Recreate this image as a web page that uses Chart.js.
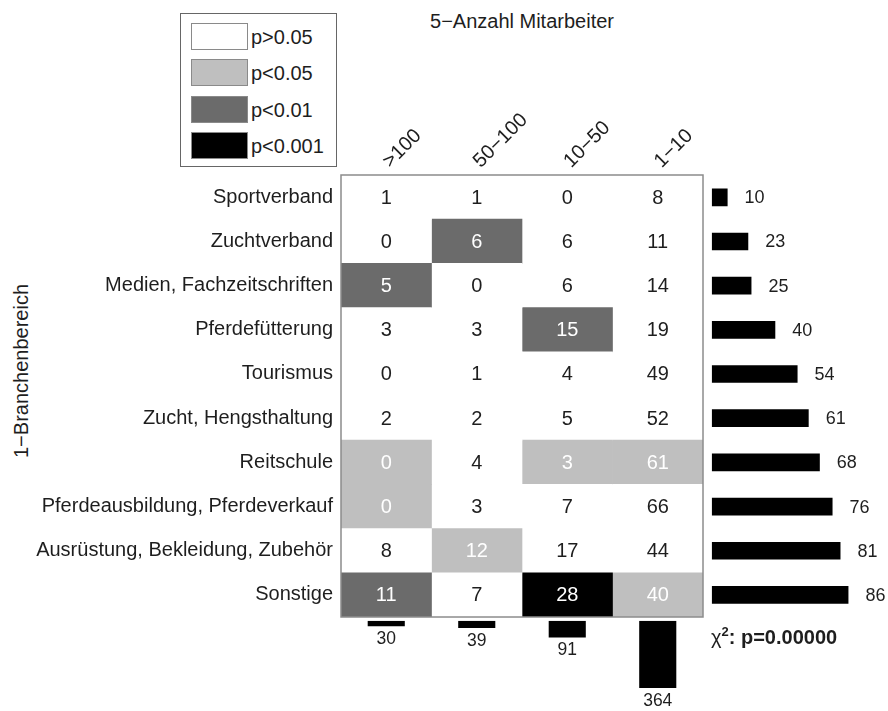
<!DOCTYPE html>
<html>
<head>
<meta charset="utf-8">
<script src="https://cdn.jsdelivr.net/npm/chart.js@4.4.1/dist/chart.umd.min.js"></script>
<style>
    body { margin: 0; background: #fff; font-family: "Liberation Sans", Arial, sans-serif; color: #1e1e1e; }
    #wrap { position: relative; width: 888px; height: 711px; overflow: hidden; }
    canvas { position: absolute; }
    #heat { left: 0; top: 0; }
    #rowTot { left: 705px; top: 170px; }
    #colTot { left: 336px; top: 617px; }
    .title { position: absolute; left: 522px; top: 9px; transform: translateX(-50%); font-size: 20px; line-height: 24px; white-space: nowrap; }
    .ytitle { position: absolute; left: 21px; top: 371px; transform: translate(-50%, -50%) rotate(-90deg); font-size: 20px; line-height: 24px; white-space: nowrap; }
    .legend { position: absolute; left: 180px; top: 13px; width: 157px; height: 154px; box-sizing: border-box; border: 1px solid #666; }
    .legend .item { position: absolute; left: 10px; height: 27px; }
    .legend .sw { position: absolute; left: 0; top: 0; width: 57px; height: 27px; box-sizing: border-box; border: 1px solid #8a8a8a; }
    .legend .lbl { position: absolute; left: 60px; top: 1px; font-size: 20px; line-height: 26px; white-space: nowrap; }
    .chi { position: absolute; left: 711px; top: 625px; font-size: 20px; line-height: 24px; font-weight: bold; white-space: nowrap; }
    .chi .x { font-weight: normal; }
    .chi .s { position: relative; top: -8px; font-size: 13px; }
</style>
</head>
<body>
<div id="wrap">
    <div class="title">5−Anzahl Mitarbeiter</div>
    <div class="ytitle">1−Branchenbereich</div>
    <div class="legend" id="legend"></div>
    <canvas id="heat" width="708" height="622"></canvas>
    <canvas id="rowTot" width="183" height="452"></canvas>
    <canvas id="colTot" width="372" height="94"></canvas>
    <div class="chi"><span class="x">χ</span><span class="s">2</span>: p=0.00000</div>
</div>
<script>
// data
const rows = ['Sportverband', 'Zuchtverband', 'Medien, Fachzeitschriften', 'Pferdefütterung', 'Tourismus',
    'Zucht, Hengsthaltung', 'Reitschule', 'Pferdeausbildung, Pferdeverkauf', 'Ausrüstung, Bekleidung, Zubehör', 'Sonstige'];
const cols = ['>100', '50−100', '10−50', '1−10'];

// counts per column (top to bottom)
const countsGt100 = [1, 0, 5, 3, 0, 2, 0, 0, 8, 11];
const counts50to100 = [1, 6, 0, 3, 1, 2, 4, 3, 12, 7];
const counts10to50 = [0, 6, 6, 15, 4, 5, 3, 7, 17, 28];
const counts1to10 = [8, 11, 14, 19, 49, 52, 61, 66, 44, 40];

// significance class per cell: 0 p>0.05, 1 p<0.05, 2 p<0.01, 3 p<0.001
const levelGt100 = [0, 0, 2, 0, 0, 0, 1, 1, 0, 2];
const level50to100 = [0, 2, 0, 0, 0, 0, 0, 0, 1, 0];
const level10to50 = [0, 0, 0, 2, 0, 0, 1, 0, 0, 3];
const level1to10 = [0, 0, 0, 0, 0, 0, 1, 0, 0, 1];

const rowTotals = [10, 23, 25, 40, 54, 61, 68, 76, 81, 86];
const colTotals = [30, 39, 91, 364];

const levelLabels = ['p>0.05', 'p<0.05', 'p<0.01', 'p<0.001'];
const levelColors = ['#ffffff', '#bfbfbf', '#6b6b6b', '#000000'];

const counts = [countsGt100, counts50to100, counts10to50, counts1to10];
const levels = [levelGt100, level50to100, level10to50, level1to10];

Chart.defaults.font.family = '"Liberation Sans", Arial, sans-serif';
Chart.defaults.color = '#1e1e1e';
Chart.defaults.animation = false;

// legend
const legendEl = document.getElementById('legend');
levelLabels.forEach((txt, i) => {
    const item = document.createElement('div');
    item.className = 'item';
    item.style.top = (8.7 + i * 36.5) + 'px';
    item.innerHTML = '<div class="sw" style="background:' + levelColors[i] + '"></div><div class="lbl">' + txt + '</div>';
    legendEl.appendChild(item);
});

// numbers inside the cells + frame round the table
const cellText = {
    id: 'cellText',
    afterDatasetsDraw(chart) {
        const ctx = chart.ctx;
        ctx.save();
        ctx.font = '20px "Liberation Sans", Arial, sans-serif';
        ctx.textAlign = 'center';
        ctx.textBaseline = 'middle';
        chart.data.datasets.forEach((ds, j) => {
            chart.getDatasetMeta(j).data.forEach((bar, i) => {
                ctx.fillStyle = levels[j][i] > 0 ? '#ffffff' : '#1e1e1e';
                ctx.fillText(String(counts[j][i]), (bar.x + bar.base) / 2, bar.y + 1);
            });
        });
        const a = chart.chartArea;
        ctx.strokeStyle = '#8c8c8c';
        ctx.lineWidth = 1.5;
        ctx.strokeRect(a.left, a.top, a.right - a.left, a.bottom - a.top);
        ctx.restore();
    }
};

new Chart(document.getElementById('heat'), {
    type: 'bar',
    data: {
        labels: rows,
        // one dataset per column, every cell is one column unit wide
        datasets: cols.map((c, j) => ({
            label: c,
            data: rows.map(() => 1),
            backgroundColor: levels[j].map(l => levelColors[l]),
            borderWidth: 0,
            barPercentage: 1,
            categoryPercentage: 1,
            xAxisID: 'x',
            yAxisID: 'y'
        }))
    },
    options: {
        indexAxis: 'y',
        responsive: false,
        layout: { padding: { left: 0, top: 0, right: 5, bottom: 5 } },
        scales: {
            x: { type: 'linear', stacked: true, min: 0, max: cols.length, display: false },
            xTop: {
                type: 'category',
                labels: cols,
                position: 'top',
                offset: true,
                grid: { display: false, drawTicks: false },
                border: { display: false },
                ticks: { minRotation: 45, maxRotation: 45, padding: 2, labelOffset: 17, font: { size: 20 }, color: '#1e1e1e' },
                afterFit: s => { s.height = 175; s.paddingLeft = 0; s.paddingRight = 0; }
            },
            y: {
                stacked: true,
                grid: { display: false, drawTicks: false },
                border: { display: false },
                ticks: { padding: 8, font: { size: 20 }, color: '#1e1e1e' },
                afterFit: s => { s.width = 341; s.paddingTop = 0; s.paddingBottom = 0; }
            }
        },
        plugins: { legend: { display: false }, tooltip: { enabled: false } }
    },
    plugins: [cellText]
});

// row totals on the right
const rowLabels = {
    id: 'rowLabels',
    afterDatasetsDraw(chart) {
        const ctx = chart.ctx;
        ctx.save();
        ctx.font = '18px "Liberation Sans", Arial, sans-serif';
        ctx.fillStyle = '#1e1e1e';
        ctx.textAlign = 'left';
        ctx.textBaseline = 'middle';
        chart.getDatasetMeta(0).data.forEach((bar, i) => {
            ctx.fillText(String(rowTotals[i]), bar.x + 17, bar.y + 1);
        });
        ctx.restore();
    }
};

new Chart(document.getElementById('rowTot'), {
    type: 'bar',
    data: {
        labels: rows,
        datasets: [{
            data: rowTotals,
            backgroundColor: '#000000',
            borderWidth: 0,
            barPercentage: 0.4,
            categoryPercentage: 1
        }]
    },
    options: {
        indexAxis: 'y',
        responsive: false,
        layout: { padding: { left: 6.7, top: 5.2, right: 17.3, bottom: 5 } },
        scales: {
            x: { type: 'linear', min: 0, max: 100, display: false },
            y: { display: false }
        },
        plugins: { legend: { display: false }, tooltip: { enabled: false } }
    },
    plugins: [rowLabels]
});

// column totals underneath
const colLabels = {
    id: 'colLabels',
    afterDatasetsDraw(chart) {
        const ctx = chart.ctx;
        ctx.save();
        ctx.font = '17.5px "Liberation Sans", Arial, sans-serif';
        ctx.fillStyle = '#1e1e1e';
        ctx.textAlign = 'center';
        ctx.textBaseline = 'middle';
        chart.getDatasetMeta(0).data.forEach((bar, i) => {
            ctx.fillText(String(colTotals[i]), bar.x, bar.y + 13);
        });
        ctx.restore();
    }
};

new Chart(document.getElementById('colTot'), {
    type: 'bar',
    data: {
        labels: cols,
        datasets: [{
            data: colTotals,
            backgroundColor: '#000000',
            borderWidth: 0,
            barPercentage: 0.41,
            categoryPercentage: 1
        }]
    },
    options: {
        responsive: false,
        layout: { padding: { left: 5, top: 3.7, right: 5, bottom: 16.3 } },
        scales: {
            x: { display: false },
            y: { type: 'linear', min: 0, max: 400, reverse: true, display: false }
        },
        plugins: { legend: { display: false }, tooltip: { enabled: false } }
    },
    plugins: [colLabels]
});
</script>
</body>
</html>
